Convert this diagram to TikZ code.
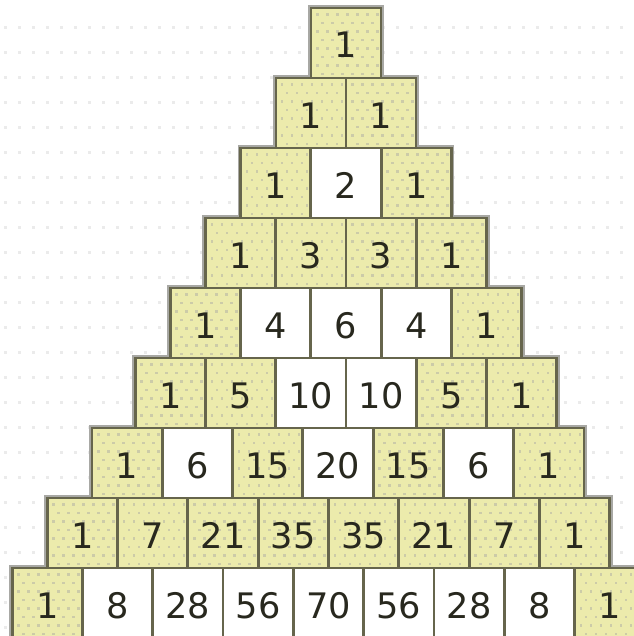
\documentclass[tikz,border=0pt]{standalone}
\usepackage{fontspec}
\setmainfont{DejaVu Sans}
\usetikzlibrary{calc}
\definecolor{kuning}{RGB}{236,235,172}
\definecolor{bintik}{RGB}{204,203,168}
\definecolor{tepi}{RGB}{102,101,76}
\definecolor{bayangan}{RGB}{168,168,164}
\definecolor{angka}{RGB}{40,40,30}

\begin{document}
\begin{tikzpicture}[
    x=0.02cm, y=-0.02cm,
    font=\fontsize{20}{20}\selectfont,
    sel/.style={draw=tepi, line width=0.05cm, minimum size=1.4cm, inner sep=0pt,
                text=angka, text height=0.6cm, text depth=0pt},
    ganjil/.style={sel, fill=kuning, path picture={
        \foreach \j in {0,...,7} \foreach \i in {0,...,6}
          \fill[bintik] ($(path picture bounding box.north west)+({5+10*\i+5*mod(\j,2)},{5+8.5*\j})$) rectangle ++(2.5,2.5);}},
    genap/.style={sel, fill=white},
    titik/.style={fill=gray!16},
    bayang/.style={fill=bayangan}
  ]
    \fill[white] (0,0) rectangle (633,636);
    \useasboundingbox (0,0) rectangle (633,636);
    \foreach \gx in {4,18,...,630} \foreach \gy in {26,51,...,636}
      \fill[titik] (\gx,\gy) rectangle ++(3,3);

    \foreach \r in {0,...,8} {
      \pgfmathsetmacro{\cx}{\r<6 ? 346 : (\r==6 ? 338 : 328.5)}
      \pgfmathsetmacro{\cy}{43+70*\r}
      \fill[bayang] ({\cx-35.15*(\r+1)-3},{\cy-38}) rectangle ({\cx+35.15*(\r+1)+3},{\cy+35});
    }

    \foreach \baris [count=\r from 0] in {{1},{1,1},{1,2,1},{1,3,3,1},{1,4,6,4,1},
        {1,5,10,10,5,1},{1,6,15,20,15,6,1},{1,7,21,35,35,21,7,1},{1,8,28,56,70,56,28,8,1}} {
      \pgfmathsetmacro{\cx}{\r<6 ? 346 : (\r==6 ? 338 : 328.5)}
      \pgfmathsetmacro{\cy}{43+70*\r}
      \foreach \v [count=\k from 0] in \baris {
        \ifodd\v
          \node[ganjil] (c\r-\k) at ({\cx+70.3*(\k-\r/2)},\cy) {\v};
        \else
          \node[genap] (c\r-\k) at ({\cx+70.3*(\k-\r/2)},\cy) {\v};
        \fi
      }
    }
  \end{tikzpicture}
\end{document}
